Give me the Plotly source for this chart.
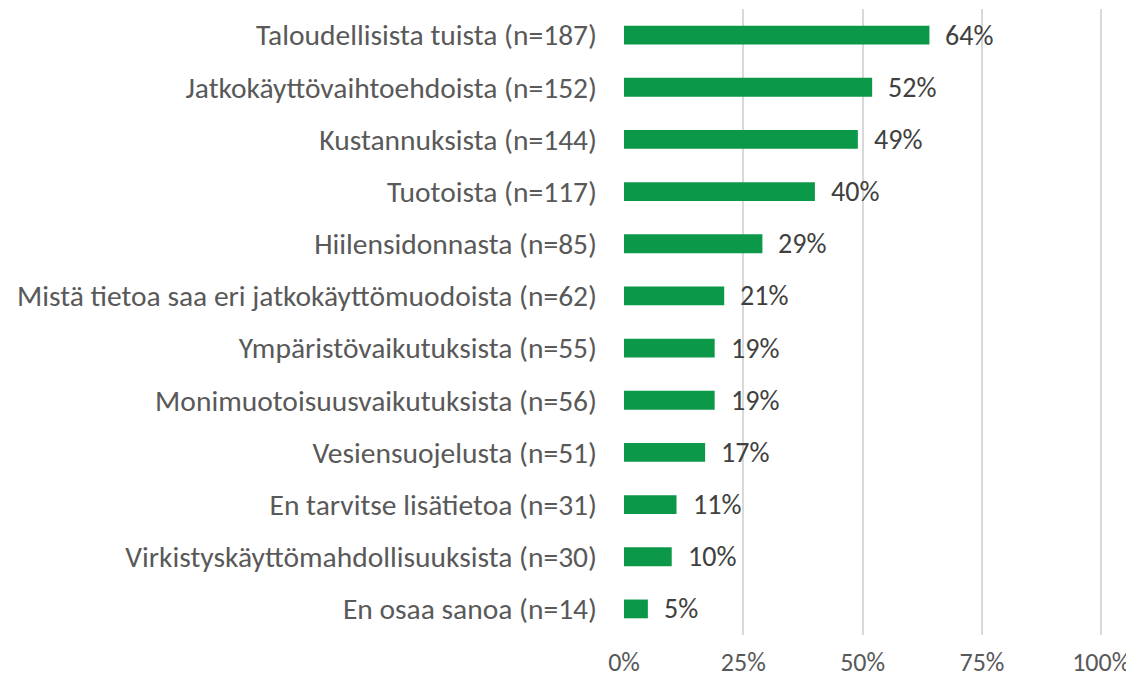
import plotly.graph_objects as go

categories = [
    "Taloudellisista tuista (n=187)",
    "Jatkokäyttövaihtoehdoista (n=152)",
    "Kustannuksista (n=144)",
    "Tuotoista (n=117)",
    "Hiilensidonnasta (n=85)",
    "Mistä tietoa saa eri jatkokäyttömuodoista (n=62)",
    "Ympäristövaikutuksista (n=55)",
    "Monimuotoisuusvaikutuksista (n=56)",
    "Vesiensuojelusta (n=51)",
    "En tarvitse lisätietoa (n=31)",
    "Virkistyskäyttömahdollisuuksista (n=30)",
    "En osaa sanoa (n=14)",
]
values = [64, 52, 49, 40, 29, 21, 19, 19, 17, 11, 10, 5]
tick_vals = [0, 25, 50, 75, 100]
tick_text = ["0%", "25%", "50%", "75%", "100%"]

FONT = "Carlito, Lato, sans-serif"

fig = go.Figure(go.Bar(
    x=values, y=categories, orientation="h",
    marker=dict(color="#0B9849", line=dict(width=0)),
    width=0.36,
))

for c, v in zip(categories, values):
    fig.add_annotation(x=v, y=c, text=f"{v}%", showarrow=False,
                       xanchor="left", xshift=14,
                       font=dict(family=FONT, size=28, color="#404040"))

fig.update_layout(
    width=1126, height=677,
    margin=dict(l=616, r=28, t=1, b=50),
    paper_bgcolor="white", plot_bgcolor="white",
    showlegend=False,
    font=dict(family=FONT, size=28, color="#595959"),
)
fig.update_xaxes(range=[0, 101], tickvals=tick_vals, ticktext=tick_text,
                 showgrid=True, gridcolor="#d9d9d9", gridwidth=1.5,
                 zeroline=False, showline=False, ticks="",
                 tickfont=dict(family=FONT, size=26, color="#595959"),
                 ticklabelstandoff=9)
fig.update_yaxes(categoryorder="array", categoryarray=categories[::-1],
                 showgrid=False, zeroline=False, showline=False, ticks="",
                 tickfont=dict(family=FONT, size=29.5, color="#595959"),
                 ticklabelstandoff=26)

fig.write_html("out.html")
